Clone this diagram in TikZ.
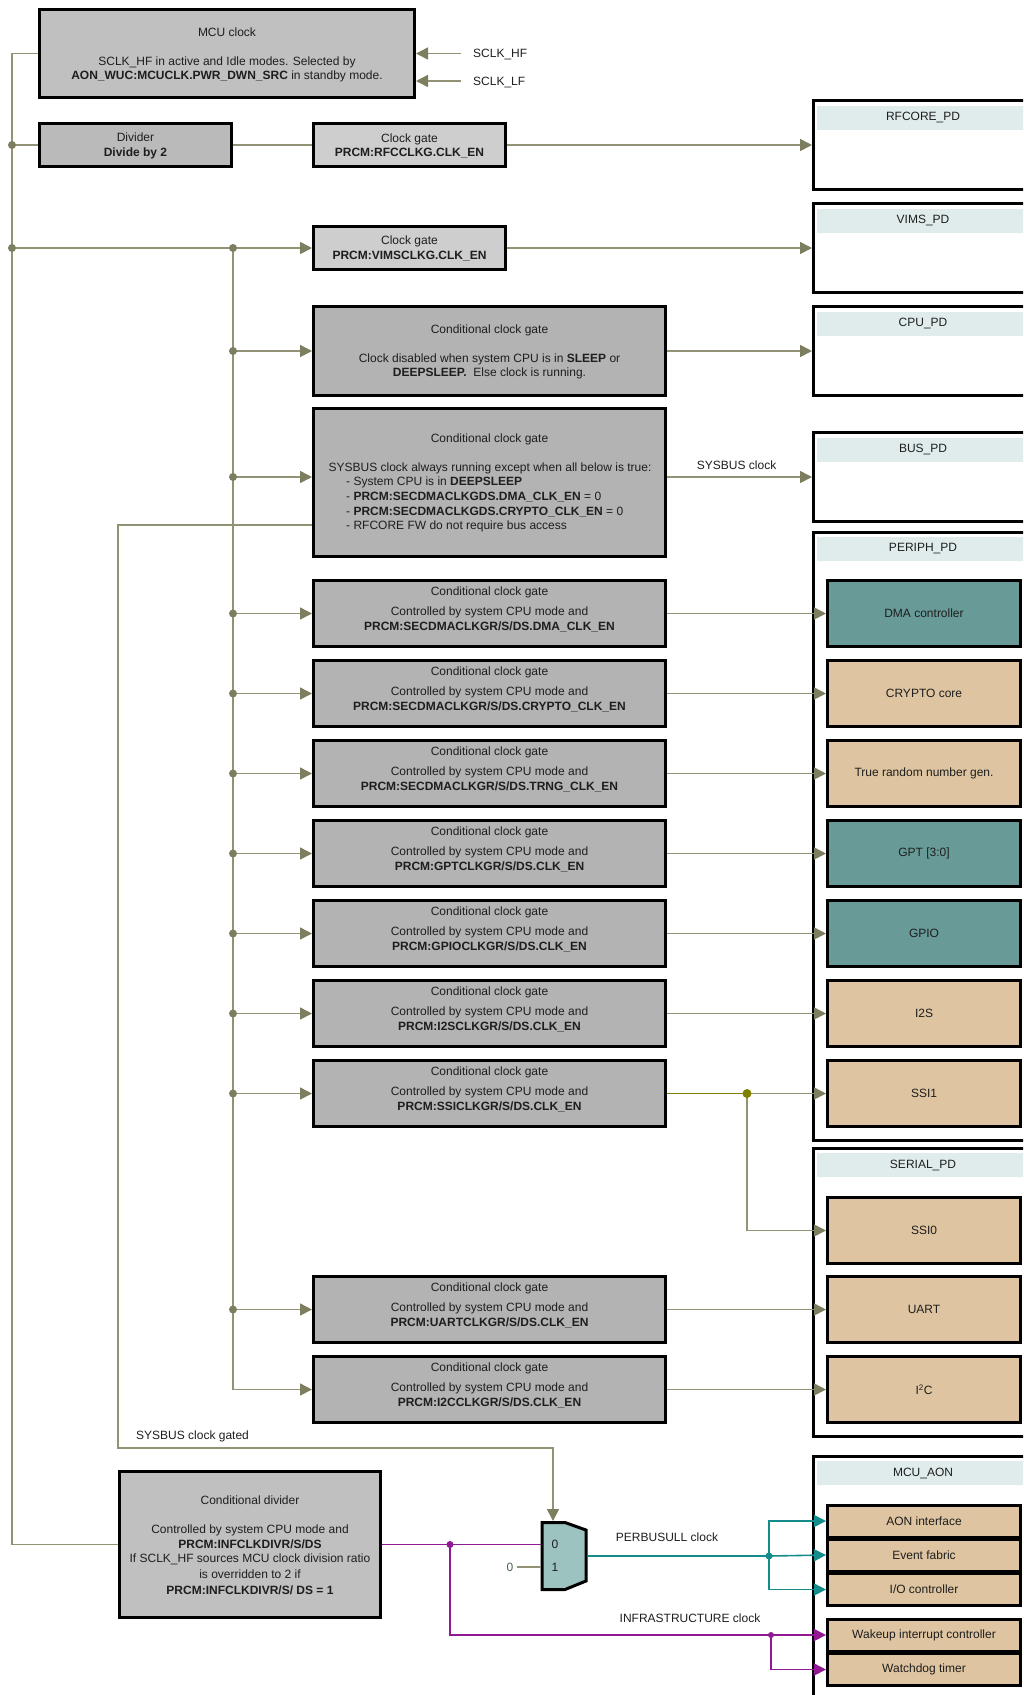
\documentclass[tikz,border=0pt]{standalone}
\usepackage{fontspec}
\setmainfont{Liberation Sans}
\usetikzlibrary{arrows.meta,calc}

\definecolor{wirec}{RGB}{146,146,116}
\definecolor{tipc}{RGB}{125,125,95}
\definecolor{tealw}{RGB}{20,140,140}
\definecolor{purw}{RGB}{145,25,145}
\definecolor{olivew}{RGB}{128,128,0}
\definecolor{mcugray}{RGB}{192,192,192}
\definecolor{divgray}{RGB}{186,186,186}
\definecolor{cggray}{RGB}{179,179,179}
\definecolor{lightgate}{RGB}{206,206,206}
\definecolor{hdrc}{RGB}{224,236,236}
\definecolor{tealbox}{RGB}{104,155,152}
\definecolor{tanbox}{RGB}{222,196,160}
\definecolor{muxc}{RGB}{157,195,192}
\definecolor{txtc}{RGB}{30,30,30}
\definecolor{zeroc}{RGB}{70,100,85}

% conditional clock gate: name, row y, register field
\newcommand\condgate[3]{%
  \node[cgbox] (#1) at (489.5,#2) {};
  \node[txt] (#1-a) at (489.5,#2-18.5) {Conditional clock gate};
  \node[txt] (#1-b) at (489.5,#2+1.5) {Controlled by system CPU mode and};
  \node[txt] (#1-c) at (489.5,#2+16.5) {\textbf{#3}};
}
% peripheral block: name, row y, fill, label
\newcommand\periph[4]{%
  \node[periphbox,fill=#3] (#1) at (924,#2) {#4};
}
% power domain: name, centre y, height, header y, label
\newcommand\pdomain[5]{%
  \node[pdbox,minimum height=#3] (#1) at (924.25,#2) {};
  \node[hdr] (#1-h) at (923,#4) {#5};
}

\begin{document}
\begin{tikzpicture}[x=1pt,y=-1pt,
  txt/.style={anchor=base,inner sep=0pt,text=txtc,font=\fontsize{12}{14}\selectfont},
  ltxt/.style={txt,anchor=base west},
  wire/.style={draw=wirec,line width=1.6pt},
  arr/.style={-{Triangle[length=12pt,width=12pt,color=tipc]}},
  tealwire/.style={draw=tealw,line width=1.6pt},
  tarr/.style={-{Triangle[length=12pt,width=12pt,color=tealw]}},
  purwire/.style={draw=purw,line width=1.6pt},
  parr/.style={-{Triangle[length=12pt,width=12pt,color=purw]}},
  boxbase/.style={draw=black,line width=3pt,inner sep=0pt,rectangle},
  cgbox/.style={boxbase,fill=cggray,minimum width=352pt,minimum height=66pt},
  periphbox/.style={boxbase,minimum width=193pt,minimum height=66pt,text=txtc,font=\fontsize{12}{14}\selectfont},
  aonbox/.style={boxbase,fill=tanbox,minimum width=193pt,minimum height=32pt,text=txtc,font=\fontsize{12}{14}\selectfont},
  pdbox/.style={boxbase,fill=white,minimum width=221.5pt},
  hdr/.style={fill=hdrc,minimum width=212pt,minimum height=24pt,inner sep=0pt,text=txtc,font=\fontsize{12}{14}\selectfont},
  dotn/.style={circle,fill=#1,minimum size=8pt,inner sep=0pt},
]
\useasboundingbox (0,0) rectangle (1023,1695);
\clip (0,0) rectangle (1023,1695);

% ---------- power domains ----------
\pdomain{rfpd}{145}{89}{117.5}{RFCORE\_PD}
\pdomain{vimspd}{248}{89}{220.5}{VIMS\_PD}
\pdomain{cpupd}{351}{89}{323.5}{CPU\_PD}
\pdomain{buspd}{477}{89}{449.5}{BUS\_PD}
\pdomain{peripd}{836.5}{608}{548.5}{PERIPH\_PD}
\pdomain{serpd}{1292.5}{288}{1165}{SERIAL\_PD}
\pdomain{aonpd}{1582.5}{252}{1473}{MCU\_AON}

% ---------- peripherals ----------
\periph{pdma}{613.5}{tealbox}{DMA controller}
\periph{pcry}{693.5}{tanbox}{CRYPTO core}
\periph{ptrng}{773.5}{tanbox}{True random number gen.}
\periph{pgpt}{853.5}{tealbox}{GPT [3:0]}
\periph{pgpio}{933.5}{tealbox}{GPIO}
\periph{pi2s}{1013.5}{tanbox}{I2S}
\periph{pssi1}{1093.5}{tanbox}{SSI1}
\periph{pssi0}{1230.5}{tanbox}{SSI0}
\periph{puart}{1309.5}{tanbox}{UART}
\periph{pi2c}{1389.5}{tanbox}{I\textsuperscript{2}C}

\node[aonbox] (paon) at (924,1521) {AON interface};
\node[aonbox] (pevt) at (924,1555) {Event fabric};
\node[aonbox] (pio)  at (924,1589.5) {I/O controller};
\node[aonbox] (pwake) at (924,1635) {Wakeup interrupt controller};
\node[aonbox] (pwdt) at (924,1669.5) {Watchdog timer};

% ---------- clock sources ----------
\node[boxbase,fill=mcugray,minimum width=375pt,minimum height=88pt] (mcu) at (227,53.5) {};
\node[txt] (mcu-a) at (227,36) {MCU clock};
\node[txt] (mcu-b) at (227,65) {SCLK\_HF in active and Idle modes. Selected by};
\node[txt] (mcu-c) at (227,79) {\textbf{AON\_WUC:MCUCLK.PWR\_DWN\_SRC} in standby mode.};

\coordinate (hfin) at (461,53.5);
\coordinate (lfin) at (461,81);
\node[ltxt] (hflab) at (473,57.5) {SCLK\_HF};
\node[ltxt] (lflab) at (473,85) {SCLK\_LF};

\node[boxbase,fill=divgray,minimum width=192pt,minimum height=43pt] (div) at (135.5,145) {};
\node[txt] (div-a) at (135.5,141) {Divider};
\node[txt] (div-b) at (135.5,156) {\textbf{Divide by 2}};

\node[boxbase,fill=lightgate,minimum width=192pt,minimum height=43pt] (rfg) at (409.5,145) {};
\node[txt] (rfg-a) at (409.5,142) {Clock gate};
\node[txt] (rfg-b) at (409.5,156) {\textbf{PRCM:RFCCLKG.CLK\_EN}};

\node[boxbase,fill=lightgate,minimum width=192pt,minimum height=43pt] (vimsg) at (409.5,248) {};
\node[txt] (vimsg-a) at (409.5,244) {Clock gate};
\node[txt] (vimsg-b) at (409.5,259) {\textbf{PRCM:VIMSCLKG.CLK\_EN}};

% ---------- CPU and system bus gates ----------
\node[boxbase,fill=cggray,minimum width=352pt,minimum height=89pt] (cpug) at (489.5,351) {};
\node[txt] (cpug-a) at (489.5,333) {Conditional clock gate};
\node[txt] (cpug-b) at (489.5,362) {Clock disabled when system CPU is in \textbf{SLEEP} or};
\node[txt] (cpug-c) at (489.5,376) {\textbf{DEEPSLEEP.}\ \ Else clock is running.};

\node[boxbase,fill=cggray,minimum width=352pt,minimum height=148pt] (sysg) at (489.5,482.5) {};
\node[txt] (sysg-a) at (489.5,442) {Conditional clock gate};
\node[txt] (sysg-b) at (490,471) {SYSBUS clock always running except when all below is true:};
\node[ltxt] (sysg-c) at (346,485) {- System CPU is in \textbf{DEEPSLEEP}};
\node[ltxt] (sysg-d) at (346,500) {- \textbf{PRCM:SECDMACLKGDS.DMA\_CLK\_EN} = 0};
\node[ltxt] (sysg-e) at (346,515) {- \textbf{PRCM:SECDMACLKGDS.CRYPTO\_CLK\_EN} = 0};
\node[ltxt] (sysg-f) at (346,529) {- RFCORE FW do not require bus access};

% ---------- peripheral gates ----------
\condgate{gdma}{613.5}{PRCM:SECDMACLKGR/S/DS.DMA\_CLK\_EN}
\condgate{gcry}{693.5}{PRCM:SECDMACLKGR/S/DS.CRYPTO\_CLK\_EN}
\condgate{gtrng}{773.5}{PRCM:SECDMACLKGR/S/DS.TRNG\_CLK\_EN}
\condgate{ggpt}{853.5}{PRCM:GPTCLKGR/S/DS.CLK\_EN}
\condgate{ggpio}{933.5}{PRCM:GPIOCLKGR/S/DS.CLK\_EN}
\condgate{gi2s}{1013.5}{PRCM:I2SCLKGR/S/DS.CLK\_EN}
\condgate{gssi}{1093.5}{PRCM:SSICLKGR/S/DS.CLK\_EN}
\condgate{guart}{1309.5}{PRCM:UARTCLKGR/S/DS.CLK\_EN}
\condgate{gi2c}{1389.5}{PRCM:I2CCLKGR/S/DS.CLK\_EN}

% ---------- conditional divider ----------
\node[boxbase,fill=mcugray,minimum width=261pt,minimum height=146pt] (cdiv) at (250,1544.5) {};
\node[txt] (cdiv-a) at (250,1504) {Conditional divider};
\node[txt] (cdiv-b) at (250,1533) {Controlled by system CPU mode and};
\node[txt] (cdiv-c) at (250,1548) {\textbf{PRCM:INFCLKDIVR/S/DS}};
\node[txt] (cdiv-d) at (250,1562) {If SCLK\_HF sources MCU clock division ratio};
\node[txt] (cdiv-e) at (250,1578) {is overridden to 2 if};
\node[txt] (cdiv-f) at (250,1594) {\textbf{PRCM:INFCLKDIVR/S/ DS = 1}};

% ---------- multiplexer ----------
\draw[line width=3pt,fill=muxc,line join=miter]
  (542,1522.5) -- (565,1522.5) -- (586,1530) -- (586,1581) -- (565,1589.5) -- (542,1589.5) -- cycle;
\coordinate (min0) at (540.5,1544.5);
\coordinate (min1) at (540.5,1567);
\coordinate (mout) at (587.5,1556);
\coordinate (mtop) at (553,1521);
\node[txt,anchor=center] (mux0) at (555,1544) {0};
\node[txt,anchor=center] (mux1) at (555,1567) {1};
\node[txt,anchor=center,text=zeroc] (zin) at (510,1567) {0};

% ---------- junctions ----------
\coordinate (jL1) at (12,145);
\coordinate (jL2) at (12,248);
\coordinate (lbot) at (12,1544.5);
\coordinate (jB0) at (233,248);
\coordinate (jBc) at (233,1389.5);
\coordinate (jcpu) at (233,351);
\coordinate (jsys) at (233,477);
\coordinate (jdma) at (233,613.5);
\coordinate (jcry) at (233,693.5);
\coordinate (jtrng) at (233,773.5);
\coordinate (jgpt) at (233,853.5);
\coordinate (jgpio) at (233,933.5);
\coordinate (ji2s) at (233,1013.5);
\coordinate (jssi) at (233,1093.5);
\coordinate (juart) at (233,1309.5);
\coordinate (jss) at (747,1093.5);
\coordinate (sgA) at (312,525);
\coordinate (sgB) at (118,1448);
\coordinate (jm1) at (450,1544.5);
\coordinate (jm2) at (771,1635);
\coordinate (jt) at (769,1556);

% ---------- clock tree wiring ----------
\draw[wire,arr] (hfin) -- (mcu.east |- hfin);
\draw[wire,arr] (lfin) -- (mcu.east |- lfin);
\draw[wire] (mcu.west) -| (lbot) -- (cdiv.west);
\draw[wire] (jL1) -- (div.west);
\draw[wire] (div.east) -- (rfg.west);
\draw[wire,arr] (rfg.east) -- (rfpd.west);
\draw[wire] (jL2) -- (jB0);
\draw[wire,arr] (jB0) -- (vimsg.west);
\draw[wire,arr] (vimsg.east) -- (vimspd.west);
\draw[wire] (jB0) -- (jBc);
\draw[wire,arr] (jBc) -- (gi2c.west);

\foreach \j/\g in {jcpu/cpug,jsys/sysg,jdma/gdma,jcry/gcry,jtrng/gtrng,jgpt/ggpt,jgpio/ggpio,ji2s/gi2s,jssi/gssi,juart/guart}
  \draw[wire,arr] (\j) -- (\j -| \g.west);

\draw[wire,arr] (cpug.east) -- (cpupd.west);
\draw[wire,arr] (sysg.east |- jsys) -- node[txt,anchor=base,pos=0.48,yshift=8pt] (sblab) {SYSBUS clock} (buspd.west);

\foreach \g/\p in {gdma/pdma,gcry/pcry,gtrng/ptrng,ggpt/pgpt,ggpio/pgpio,gi2s/pi2s,guart/puart,gi2c/pi2c}
  \draw[wire,arr] (\g.east) -- (\p.west);

\draw[draw=olivew,line width=1.6pt] (gssi.east) -- (jss);
\draw[wire,arr] (jss) -- (pssi1.west);
\draw[wire,arr] (jss) |- (pssi0.west);

% gated system bus clock to the multiplexer
\draw[wire,arr] (sgA) -| (sgB) -| (mtop);
\node[ltxt] (sglab) at (136,1439) {SYSBUS clock gated};
\draw[wire] (zin.east) ++(3,0) -- (min1);

% infrastructure clock
\draw[purwire] (cdiv.east) -- (min0);
\draw[purwire] (jm1) |- (jm2);
\draw[purwire,parr] (jm2) -- (pwake.west);
\draw[purwire,parr] (jm2) |- (pwdt.west);
\node[txt] (inflab) at (690,1622) {INFRASTRUCTURE clock};

% peripheral bus clock
\draw[tealwire] (mout) -- (jt);
\draw[tealwire,tarr] (jt) -- (pevt.west);
\draw[tealwire,tarr] (jt) |- (paon.west);
\draw[tealwire,tarr] (jt) |- (pio.west);
\node[txt] (pblab) at (667,1541) {PERBUSULL clock};

% junction dots
\node[dotn=tipc] (dL1) at (jL1) {};
\node[dotn=tipc] (dL2) at (jL2) {};
\node[dotn=tipc] (dB0) at (jB0) {};
\foreach \j in {jcpu,jsys,jdma,jcry,jtrng,jgpt,jgpio,ji2s,jssi,juart}
  \node[dotn=tipc] (d-\j) at (\j) {};
\node[dotn=olivew,minimum size=9pt] (dss) at (jss) {};
\node[dotn=purw,minimum size=7pt] (dm1) at (jm1) {};
\node[dotn=purw,minimum size=6pt] (dm2) at (jm2) {};
\node[dotn=tealw,minimum size=7pt] (dt) at (jt) {};
\end{tikzpicture}
\end{document}
